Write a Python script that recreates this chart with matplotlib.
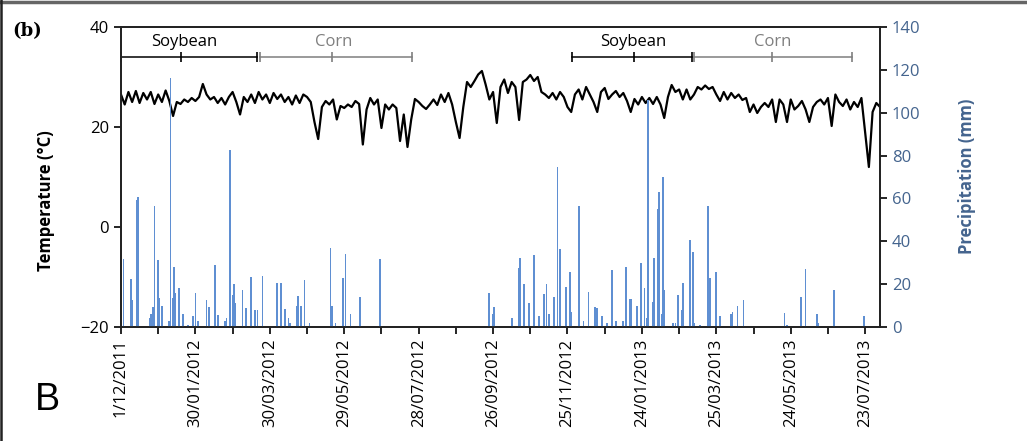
import numpy as np
import matplotlib.pyplot as plt

plt.rcParams['font.family'] = ['Open Sans', 'DejaVu Sans']

# days counted from 1/12/2011
temp_day = np.arange(0, 613, 3)
temp = [26.5, 24.5, 27, 25, 27.2, 24.8, 26.8, 25.5, 27, 24.6, 26.5, 25, 27.3, 25.2,
        22.2, 25, 24.6, 25.5, 25, 25.8, 25.2, 26, 28.6, 26.5, 25.5, 26, 24.8, 25.8,
        24.5, 26, 27, 25, 22.5, 26, 25, 26.5, 24.8, 27, 25.5, 26.5, 24.8, 26.8,
        25.6, 26.5, 25, 26, 24.5, 26.3, 24.8, 26.5,
        26, 25, 21, 17.6, 24, 25.2, 24.5, 25.5, 21.5, 24.2, 23.8, 24.5, 24, 25.2,
        24.6, 16.5, 23.5, 25.8, 24.5, 25.5, 19.8, 24.5, 23.5, 24.5, 23.8, 17.2,
        22.5, 16, 21.5, 25.6, 25, 24.2, 23.6, 24.5, 25.5, 24.4, 26.5, 25, 26.8,
        24.5, 21, 17.8, 24, 29, 28, 29.2, 30.5, 31.2, 28.5, 25.5, 27, 20.8, 28,
        29.5, 26.8, 29, 28, 21.4, 29, 29.5, 30.4, 29.2, 30, 27, 26.5, 25.8, 26.8,
        25.5, 27, 26, 24, 23, 26.5, 27.5, 25.5, 28, 26.5, 25, 23, 27, 27.8, 25.6,
        26.5, 27.2, 26, 26.8, 25.2, 23, 25.6, 24.5, 26, 24.8, 25.8, 24.6, 26, 24.5,
        21.8, 26, 28.4, 27, 27.5, 25.5, 27.5,
        25.5, 26.5, 28, 27.5, 28.3, 27.6, 28, 26.5, 25.2, 27, 25.5, 26.8, 25.8,
        26.5, 25.4, 25.8, 23, 24.5, 22.8, 24, 24.8, 24, 25.5, 21, 25.5, 24.5, 21,
        25.5, 23.5, 24.2, 25.2, 23.5, 21, 24, 25, 25.5, 24.5, 25.8, 20.2, 26.5, 25,
        24.2, 25.5, 23.5, 25, 24, 25.8, 19, 12, 23, 24.8, 24]

rain_day = [2, 8, 9, 13, 14, 23, 24, 26, 27, 30, 31, 33, 39, 40, 42, 43, 44, 47, 50,
            54, 58, 60, 62, 69, 71, 76, 78, 84, 85, 88, 90, 91, 92, 98, 101, 105, 108,
            110, 114, 126, 129, 132, 135, 136, 142, 143, 145, 148, 152, 169, 170, 173,
            179, 181, 185, 193, 209, 297, 300, 301, 315, 321, 322, 325, 329, 333, 337,
            341, 343, 345, 349, 352, 354, 359, 362, 363, 369, 373, 377, 382, 384, 388,
            392, 396, 399, 405, 407, 410, 411, 416, 419, 422, 424, 425, 429, 430, 433,
            434, 436, 437, 438, 445, 447, 449, 452, 453, 459, 461, 462, 467, 473, 474,
            475, 480, 483, 492, 493, 497, 502, 535, 537, 548, 552, 561, 562, 575, 599]
rain = [31.6, 22.3, 12.6, 59.3, 60.8, 4, 6, 9.5, 56.5, 31.3, 13.4, 10, 3, 116, 13.5,
        27.8, 16, 18, 6, 1, 5, 15.7, 3, 12.6, 9.5, 28.9, 5.5, 3, 4, 82.6, 14.8, 20, 11,
        17.3, 8.7, 23.5, 8, 8, 23.8, 20.7, 20.7, 8.5, 4, 2, 10, 14.5, 10, 21.9, 2, 36.7,
        10, 2, 22.7, 34, 6, 14.1, 31.6, 15.7, 6, 9.3, 4, 27.4, 32, 20.2, 11, 33.4, 5,
        15.2, 20.2, 6, 14, 74.5, 36.2, 18.7, 25.8, 7, 56.5, 3, 16.3, 9.3, 9, 5, 2, 26.6,
        3, 3, 27.8, 13, 13, 10, 29.7, 18.4, 4, 106, 11.7, 32, 55, 63.1, 6, 70.1, 17.4,
        2, 2, 15, 7.8, 20.7, 40.6, 35, 2, 1, 56.5, 6, 22.7, 25.8, 5, 6, 7, 10, 12.4,
        6.7, 1, 14, 27.2, 6.2, 2, 17.1, 5]

tick_day = np.arange(0, 601, 60)
tick_labels = ['1/12/2011', '30/01/2012', '30/03/2012', '29/05/2012', '28/07/2012',
               '26/09/2012', '25/11/2012', '24/01/2013', '25/03/2013', '24/05/2013',
               '23/07/2013']

season_name = ['Soybean', 'Corn', 'Soybean', 'Corn']
season_start = [0, 112, 364, 462]
season_mid = [48, 170, 414, 525]
season_end = [110, 235, 460, 589]
season_col = ['black', '#7f7f7f', 'black', '#7f7f7f']

blue_txt = '#44648e'

fig = plt.figure(figsize=(10.27, 4.41), dpi=100)
ax = fig.add_axes([0.1178, 0.2585, 0.8569 - 0.1178, 0.9388 - 0.2585])

ax.plot(temp_day, temp, color='black', lw=1.6, zorder=3)

for name, s, m, e, c in zip(season_name, season_start, season_mid, season_end, season_col):
    ax.plot([s, e], [34, 34], color=c, lw=1.1, clip_on=False)
    ax.plot([s, m, e], [34, 34, 34], ls='none', marker='|', ms=7, mew=1.2, color=c,
            clip_on=False)
    ax.text((s + e) / 2 + (m - (s + e) / 2) * 0.6, 35.3, name, color=c, fontsize=12,
            ha='center', va='bottom')

ax.set_xlim(0, 612)
ax.set_ylim(-20, 40)
ax.set_yticks([-20, 0, 20, 40])
ax.set_xticks(tick_day)
ax.set_xticklabels(tick_labels, rotation=90)
ax.set_xticks(np.arange(30, 601, 60), minor=True)
ax.tick_params(axis='x', which='both', length=5, width=1.2, labelsize=12)
ax.tick_params(axis='y', length=5, width=1.2, labelsize=12)

ax2 = ax.twinx()
ax2.bar(rain_day, rain, width=1.4, color='#5f8fd2', edgecolor='none', zorder=2)
ax2.set_ylim(0, 140)
ax2.set_yticks(np.arange(0, 141, 20))
ax2.tick_params(axis='y', length=5, width=1.2, labelsize=12, labelcolor=blue_txt)
ax2.set_xlim(0, 612)

for a in (ax, ax2):
    for sp in a.spines.values():
        sp.set_linewidth(1.3)
        sp.set_color('#222222')

fig.text(0.045, 0.545, 'Temperature (°C)', rotation=90, ha='center', va='center',
         fontsize=12, fontweight='bold')
fig.text(0.942, 0.6, 'Precipitation (mm)', rotation=90, ha='center', va='center',
         fontsize=12, fontweight='bold', color=blue_txt)
fig.text(0.012, 0.93, '(b)', fontsize=13, fontweight='bold', family='DejaVu Serif',
         ha='left', va='center')
fig.text(0.034, 0.093, 'B', fontsize=27, family='Liberation Sans', ha='left', va='center')

# frame of the cut-out picture
fig.add_artist(plt.Line2D([0, 1], [0.996, 0.996], color='#666666', lw=2.5,
                          transform=fig.transFigure))
fig.add_artist(plt.Line2D([0.001, 0.001], [0, 1], color='#222222', lw=1.8,
                          transform=fig.transFigure))

fig.savefig('out.png', dpi=100)
